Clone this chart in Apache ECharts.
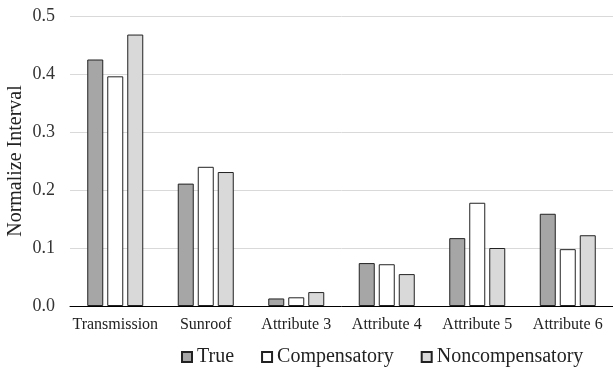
<!DOCTYPE html>
<html>
<head>
<meta charset="utf-8">
<script src="https://cdn.jsdelivr.net/npm/echarts@6/dist/echarts.min.js"></script>
<style>
  html, body { margin: 0; padding: 0; background: #fff; }
  #chart { width: 613px; height: 374px; }
</style>
</head>
<body>
<div id="chart"></div>
<script>
// values
const categories = ['Transmission', 'Sunroof', 'Attribute 3', 'Attribute 4', 'Attribute 5', 'Attribute 6'];
const trueVals = [0.425, 0.211, 0.013, 0.074, 0.117, 0.159];
const compensatory = [0.396, 0.240, 0.015, 0.072, 0.178, 0.098];
const noncompensatory = [0.468, 0.231, 0.024, 0.055, 0.100, 0.122];

const font = '"Liberation Serif", "Times New Roman", serif';
const chart = echarts.init(document.getElementById('chart'));

function barSeries(name, data, color) {
  return {
    name: name,
    type: 'bar',
    data: data,
    barWidth: 16,
    barGap: '25%',
    itemStyle: { color: color, borderColor: '#222', borderWidth: 1 }
  };
}

chart.setOption({
  animation: false,
  textStyle: { fontFamily: font },
  grid: { left: 70, right: 0, top: 16, bottom: 68, outerBoundsMode: 'none' },
  legend: {
    left: 176,
    top: 342,
    icon: 'rect',
    itemWidth: 10,
    itemHeight: 10,
    itemGap: 27,
    textStyle: { fontFamily: font, fontSize: 20, color: '#222' },
    data: ['True', 'Compensatory', 'Noncompensatory']
  },
  xAxis: {
    type: 'category',
    data: categories,
    axisLine: { lineStyle: { color: '#000', width: 1 } },
    axisTick: { show: false },
    axisLabel: { interval: 0, fontFamily: font, fontSize: 16, color: '#222', margin: 11 }
  },
  yAxis: {
    type: 'value',
    min: 0,
    max: 0.5,
    interval: 0.1,
    name: 'Normalize Interval',
    nameLocation: 'middle',
    nameGap: 44,
    nameMoveOverlap: false,
    nameTextStyle: { fontFamily: font, fontSize: 20, color: '#222' },
    axisLine: { show: false },
    axisTick: { show: false },
    splitLine: { lineStyle: { color: '#d9d9d9', width: 1 } },
    axisLabel: {
      fontFamily: font, fontSize: 18, color: '#333', margin: 15,
      formatter: function (v) { return v.toFixed(1); }
    }
  },
  series: [
    barSeries('True', trueVals, '#a6a6a6'),
    barSeries('Compensatory', compensatory, '#ffffff'),
    barSeries('Noncompensatory', noncompensatory, '#d9d9d9')
  ]
});
</script>
</body>
</html>
